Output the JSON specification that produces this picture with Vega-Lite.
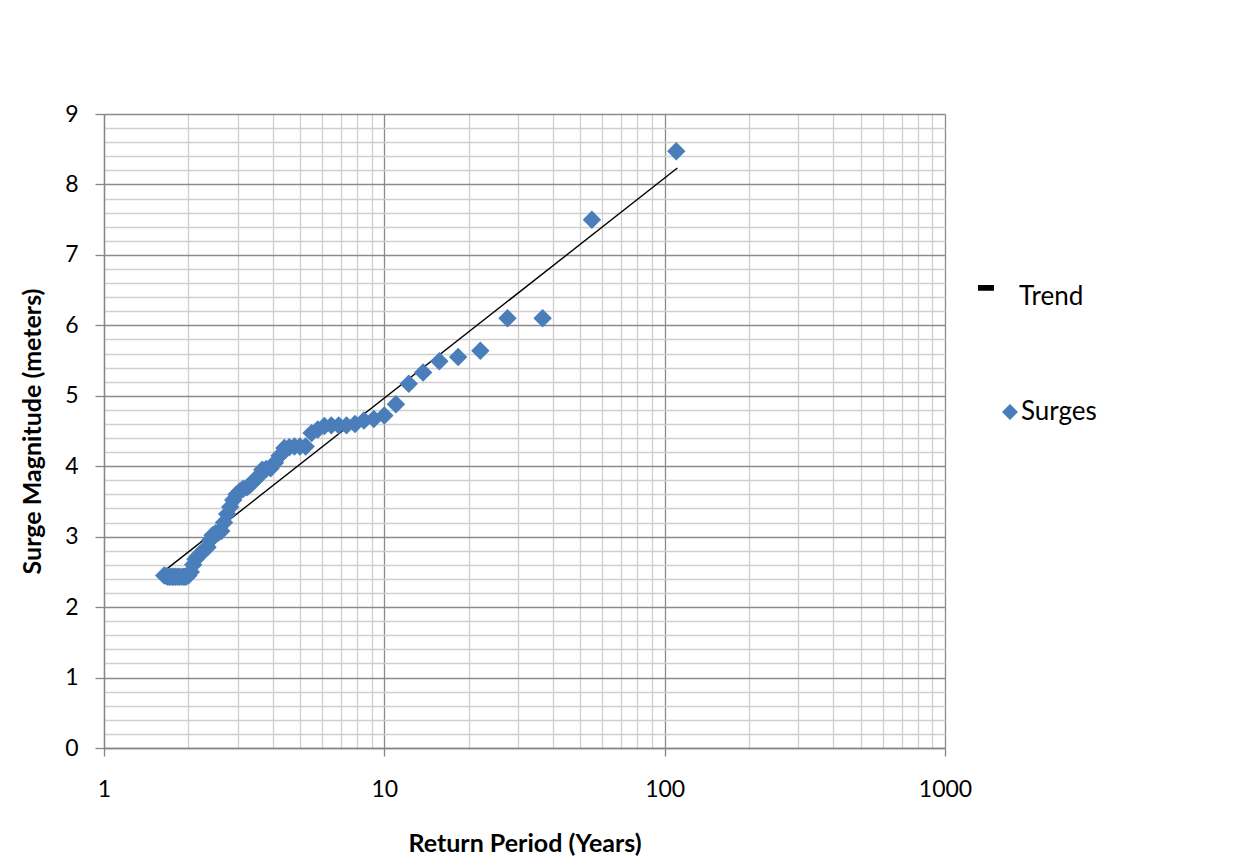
{
  "$schema": "https://vega.github.io/schema/vega-lite/v6.json",
  "autosize": "none",
  "width": 841,
  "height": 634,
  "padding": {"left": 104, "top": 114, "right": 312, "bottom": 116},
  "background": "white",
  "config": {
    "view": {"stroke": null},
    "font": "Lato",
    "axis": {"labelFont": "Lato", "titleFont": "Lato", "labelColor": "#000", "titleColor": "#000", "labelFontSize": 23, "titleFontSize": 25, "titleFontWeight": "bold"}
  },
  "datasets": {
    "surges": [
      {"T": 110, "y": 8.47}, {"T": 55, "y": 7.5}, {"T": 36.7, "y": 6.1}, {"T": 27.5, "y": 6.1},
      {"T": 22, "y": 5.64}, {"T": 18.33, "y": 5.55}, {"T": 15.71, "y": 5.49}, {"T": 13.75, "y": 5.33},
      {"T": 12.22, "y": 5.17}, {"T": 11, "y": 4.88}, {"T": 10, "y": 4.72}, {"T": 9.17, "y": 4.67},
      {"T": 8.46, "y": 4.65}, {"T": 7.86, "y": 4.6}, {"T": 7.33, "y": 4.58}, {"T": 6.875, "y": 4.58},
      {"T": 6.47, "y": 4.58}, {"T": 6.11, "y": 4.57}, {"T": 5.79, "y": 4.52}, {"T": 5.5, "y": 4.47},
      {"T": 5.24, "y": 4.28}, {"T": 5.0, "y": 4.28}, {"T": 4.78, "y": 4.28}, {"T": 4.58, "y": 4.27},
      {"T": 4.4, "y": 4.26}, {"T": 4.23, "y": 4.15}, {"T": 4.07, "y": 4.05}, {"T": 3.93, "y": 3.97},
      {"T": 3.79, "y": 3.96}, {"T": 3.67, "y": 3.95}, {"T": 3.55, "y": 3.85}, {"T": 3.44, "y": 3.8},
      {"T": 3.33, "y": 3.74}, {"T": 3.24, "y": 3.7}, {"T": 3.14, "y": 3.68}, {"T": 3.06, "y": 3.65},
      {"T": 2.97, "y": 3.6}, {"T": 2.89, "y": 3.52}, {"T": 2.82, "y": 3.42}, {"T": 2.75, "y": 3.32},
      {"T": 2.68, "y": 3.2}, {"T": 2.62, "y": 3.08}, {"T": 2.56, "y": 3.06}, {"T": 2.5, "y": 3.05},
      {"T": 2.44, "y": 3.02}, {"T": 2.39, "y": 2.95}, {"T": 2.34, "y": 2.85}, {"T": 2.29, "y": 2.82},
      {"T": 2.24, "y": 2.78}, {"T": 2.2, "y": 2.75}, {"T": 2.16, "y": 2.72}, {"T": 2.12, "y": 2.68},
      {"T": 2.08, "y": 2.6}, {"T": 2.04, "y": 2.5}, {"T": 2.0, "y": 2.45}, {"T": 1.96, "y": 2.43},
      {"T": 1.93, "y": 2.43}, {"T": 1.9, "y": 2.43}, {"T": 1.86, "y": 2.43}, {"T": 1.83, "y": 2.43},
      {"T": 1.8, "y": 2.43}, {"T": 1.77, "y": 2.43}, {"T": 1.75, "y": 2.43}, {"T": 1.72, "y": 2.43},
      {"T": 1.69, "y": 2.43}, {"T": 1.67, "y": 2.44}, {"T": 1.64, "y": 2.45}
    ],
    "trend": [
      {"T": 1.65, "y": 2.522}, {"T": 111, "y": 8.233}
    ]
  },
  "layer": [
    {
      "data": {"name": "trend"},
      "mark": {"type": "line", "color": "black", "strokeWidth": 1.4},
      "encoding": {
        "x": {
          "field": "T", "type": "quantitative",
          "scale": {"type": "log", "domain": [1, 1000], "nice": false},
          "axis": {
            "title": "Return Period (Years)",
            "values": [1, 2, 3, 4, 5, 6, 7, 8, 9, 10, 20, 30, 40, 50, 60, 70, 80, 90, 100, 200, 300, 400, 500, 600, 700, 800, 900, 1000],
            "labelExpr": "indexof([1, 10, 100, 1000], datum.value) >= 0 ? datum.label : ''",
            "format": "d",
            "grid": true,
            "gridColor": {"condition": {"test": "indexof([1, 10, 100, 1000], datum.value) >= 0", "value": "#8a8a8a"}, "value": "#cfcfcf"},
            "gridWidth": 1.3,
            "domainColor": "#868686",
            "domainWidth": 1.3,
            "tickColor": {"condition": {"test": "indexof([1, 10, 100, 1000], datum.value) >= 0", "value": "#868686"}, "value": "transparent"},
            "tickSize": 8,
            "tickWidth": 1.3,
            "labelPadding": 22,
            "labelFlush": false,
            "labelOverlap": false,
            "titlePadding": 30
          }
        },
        "y": {
          "field": "y", "type": "quantitative",
          "scale": {"domain": [0, 9], "nice": false, "zero": true},
          "axis": {
            "title": "Surge Magnitude (meters)",
            "tickCount": 45,
            "labelExpr": "abs(datum.value - round(datum.value)) < 0.001 ? format(datum.value, 'd') : ''",
            "grid": true,
            "gridColor": {"condition": {"test": "abs(datum.value - round(datum.value)) < 0.001", "value": "#8a8a8a"}, "value": "#cfcfcf"},
            "gridWidth": 1.3,
            "domainColor": "#868686",
            "domainWidth": 1.3,
            "tickColor": {"condition": {"test": "abs(datum.value - round(datum.value)) < 0.001", "value": "#868686"}, "value": "transparent"},
            "tickSize": 9,
            "tickWidth": 1.3,
            "labelPadding": 17,
            "labelFlush": false,
            "labelOverlap": false,
            "titlePadding": 19
          }
        },
        "color": {
          "datum": "Trend",
          "type": "nominal",
          "scale": {"domain": ["Trend"], "range": ["black"]},
          "legend": {
            "title": null,
            "orient": "none",
            "legendX": 869,
            "legendY": 170,
            "padding": 0,
            "symbolType": "M-1,-1.5H1V-0.78H-1Z",
            "symbolSize": 256,
            "symbolStrokeWidth": 0,
            "symbolFillColor": "black",
            "labelFont": "Lato",
            "labelFontSize": 26,
            "labelColor": "#000",
            "labelOffset": 20,
            "encode": {"symbols": {"update": {"fill": {"value": "black"}, "stroke": {"value": "black"}, "strokeWidth": {"value": 0}, "size": {"value": 256}}}}
          }
        }
      }
    },
    {
      "data": {"name": "surges"},
      "mark": {"type": "point", "filled": true, "opacity": 1, "size": 340, "color": "#4a7ebb"},
      "encoding": {
        "x": {"field": "T", "type": "quantitative"},
        "y": {"field": "y", "type": "quantitative"},
        "shape": {
          "datum": "Surges",
          "type": "nominal",
          "scale": {"domain": ["Surges"], "range": ["diamond"]},
          "legend": {
            "title": null,
            "orient": "none",
            "legendX": 893,
            "legendY": 285,
            "padding": 0,
            "symbolSize": 256,
            "symbolFillColor": "#4a7ebb",
            "symbolStrokeWidth": 0,
            "symbolOpacity": 1,
            "labelFont": "Lato",
            "labelFontSize": 26,
            "labelColor": "#000",
            "labelOffset": -2
          }
        }
      }
    }
  ]
}
